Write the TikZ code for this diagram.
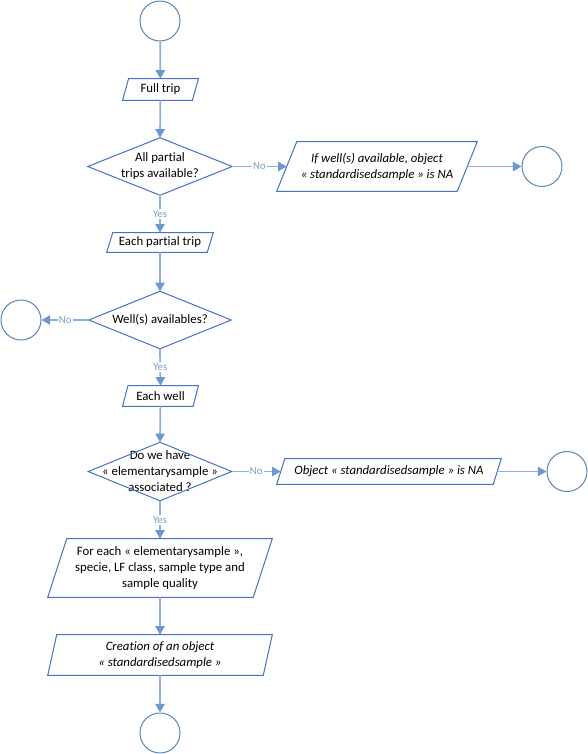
\documentclass[tikz,border=0pt]{standalone}
\usepackage{fontspec}
\setmainfont{Carlito}[Ligatures=NoCommon]
\usetikzlibrary{arrows.meta}
\definecolor{shapeblue}{HTML}{4472C4}
\definecolor{circblue}{HTML}{5B84B8}
\definecolor{linkblue}{HTML}{8FB0DE}
\definecolor{tipblue}{HTML}{6F97CF}
\definecolor{lblblue}{HTML}{7F9CC8}
\tikzset{
  outl/.style={draw=shapeblue, line width=0.75pt},
  circ/.style={circle, draw=circblue, line width=0.75pt, minimum size=30pt, inner sep=0pt},
  box/.style={inner sep=0pt, align=center, font=\fontsize{9.6}{12}\selectfont},
  link/.style={draw=linkblue, line width=1.3pt, -{Triangle[width=7pt,length=6.5pt,color=tipblue]}},
  lbl/.style={fill=white, inner sep=1pt, text=lblblue, font=\fontsize{8}{9}\selectfont},
}
\newcommand\mypara[6]{%
  \node[box, minimum width=#3, minimum height=#4] (#1) at #2 {#6};
  \draw[outl] ([xshift=-#5/2]#1.south west) -- ([xshift=#5/2]#1.north west)
     -- ([xshift=#5/2]#1.north east) -- ([xshift=-#5/2]#1.south east) -- cycle;
  \ignorespaces}
\newcommand\mydiam[5]{%
  \node[box, minimum width=#3, minimum height=#4] (#1) at #2 {#5};
  \draw[outl] (#1.north) -- (#1.east) -- (#1.south) -- (#1.west) -- cycle;
  \ignorespaces}
\begin{document}
\begin{tikzpicture}[x=0.75pt,y=-0.75pt]
\useasboundingbox (0,0) rectangle (588,754);
\node[circ] (start) at (160,21) {};
\mypara{full}{(160.5,89.5)}{52pt}{15.75pt}{4.5pt}{Full trip}
\mydiam{d1}{(160,166.5)}{108pt}{42.75pt}{All partial\\trips available?}
\mypara{ifwell}{(377,166.5)}{135pt}{36.75pt}{15pt}{\itshape If well(s) available, object\\\itshape « standardisedsample » is NA}
\node[circ] (c2) at (542,166.5) {};
\mypara{partial}{(160,242.5)}{75pt}{14.25pt}{4.5pt}{Each partial trip}
\mydiam{d2}{(160,320)}{106.5pt}{42.75pt}{Well(s) availables?}
\node[circ] (c3) at (21,320) {};
\mypara{well}{(160.5,396)}{52.5pt}{15pt}{4pt}{Each well}
\mydiam{d3}{(160,471.5)}{107.25pt}{43.5pt}{Do we have\\« elementarysample »\\associated ?}
\mypara{objna}{(389,471.5)}{162pt}{18.75pt}{6pt}{\itshape Object « standardisedsample » is NA}
\node[circ] (c4) at (567,471.5) {};
\mypara{foreach}{(160,568)}{153.75pt}{43.5pt}{14.25pt}{For each « elementarysample »,\\specie, LF class, sample type and\\sample quality}
\mypara{creation}{(160,655)}{161.25pt}{30pt}{6.75pt}{\itshape Creation of an object\\\itshape « standardisedsample »}
\node[circ] (end) at (160,733) {};
\draw[link] (start) -- (full);
\draw[link] (full) -- (d1.north);
\draw[link] (d1.east) -- node[lbl] {No} (ifwell.west);
\draw[link] (ifwell.east) -- (c2);
\draw[link] (d1.south) -- node[lbl] {Yes} (partial.north);
\draw[link] (partial) -- (d2.north);
\draw[link] (d2.west) -- node[lbl] {No} (c3);
\draw[link] (d2.south) -- node[lbl] {Yes} (well.north);
\draw[link] (well) -- (d3.north);
\draw[link] (d3.east) -- node[lbl] {No} (objna.west);
\draw[link] (objna.east) -- (c4);
\draw[link] (d3.south) -- node[lbl] {Yes} (foreach.north);
\draw[link] (foreach) -- (creation);
\draw[link] (creation) -- (end);
\end{tikzpicture}
\end{document}
